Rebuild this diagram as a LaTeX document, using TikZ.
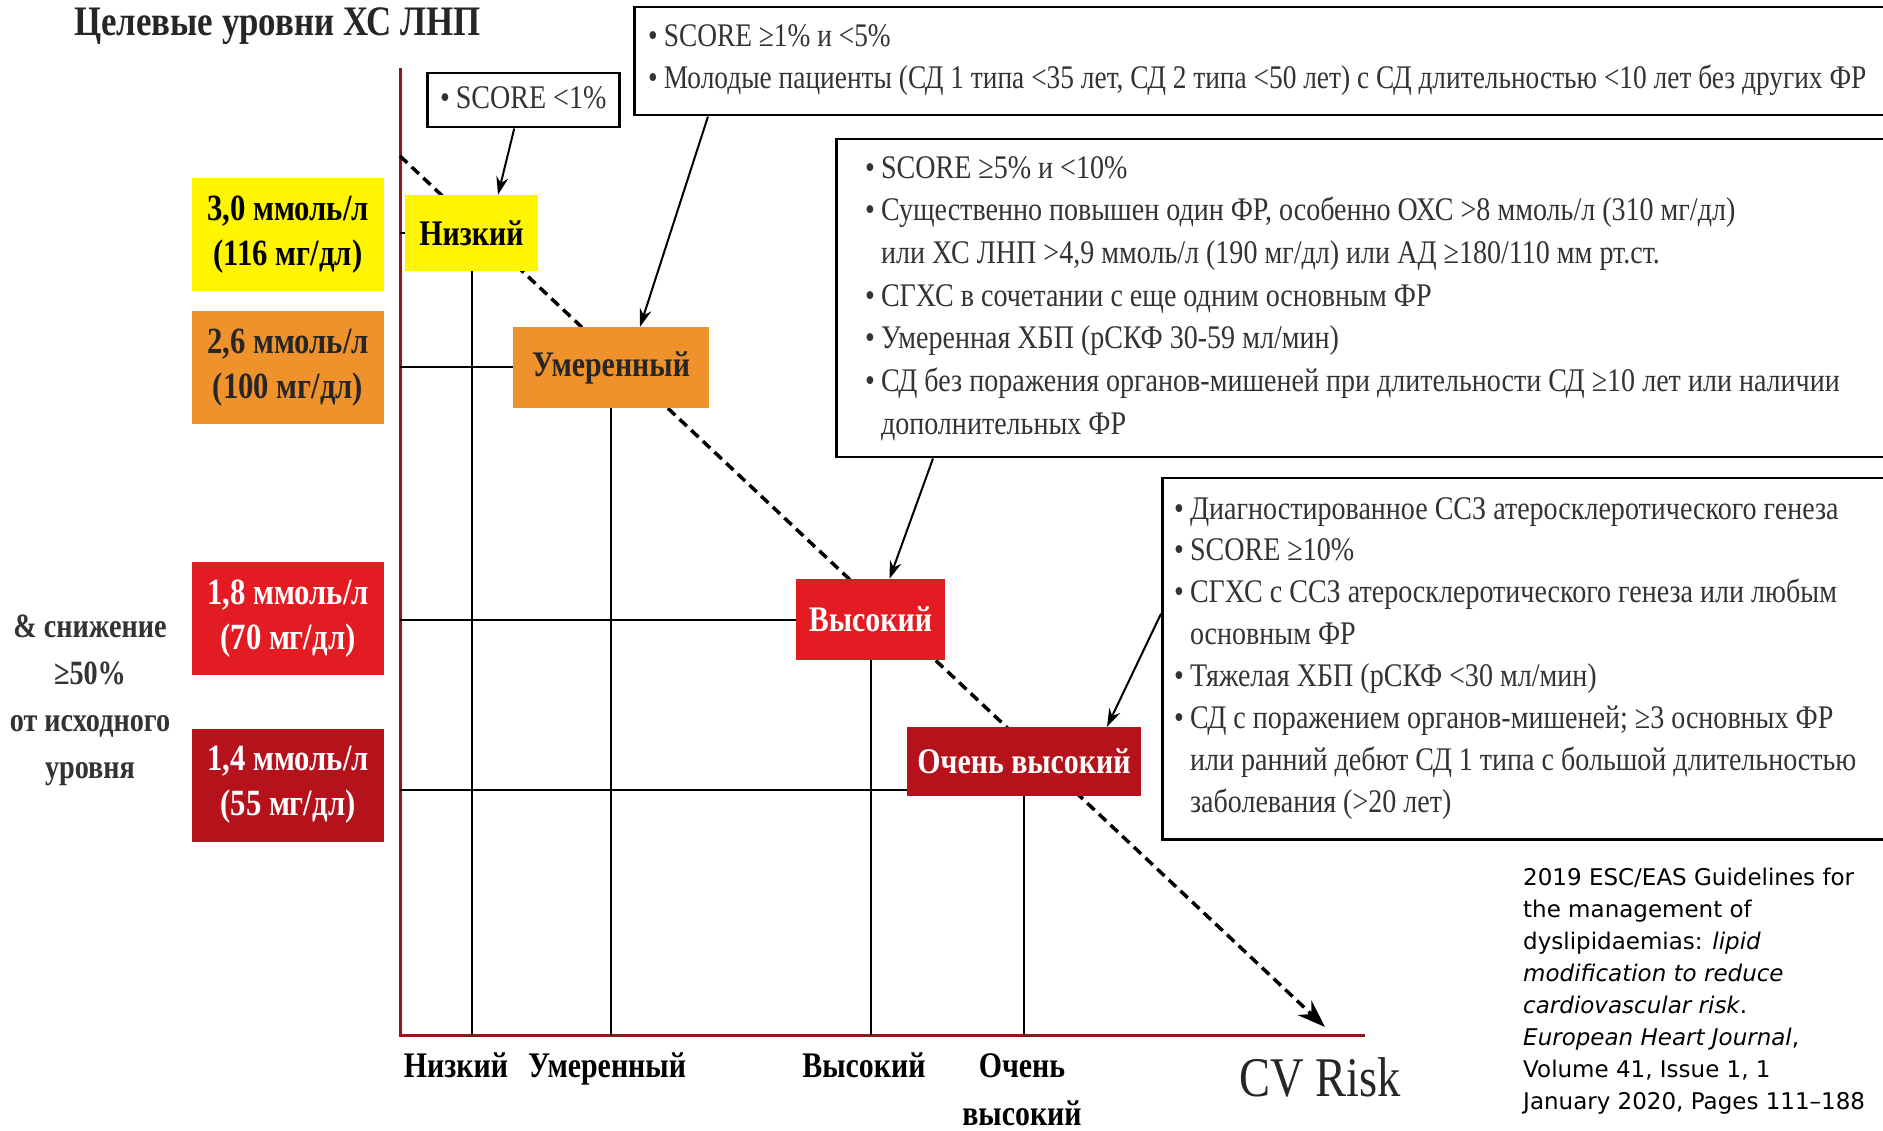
\documentclass[tikz,border=0pt]{standalone}
\usepackage{fontspec}
\setmainfont{Liberation Serif}
\newfontfamily\cnd[FakeStretch=0.85]{Liberation Serif}
\newfontfamily\cndt[FakeStretch=0.83]{Liberation Serif}
\newfontfamily\refsans{DejaVu Sans}
\usetikzlibrary{arrows.meta,calc}
\definecolor{cyel}{HTML}{FFF500}
\definecolor{corg}{HTML}{F0922B}
\definecolor{cred}{HTML}{E31B23}
\definecolor{cdred}{HTML}{B5121B}
\definecolor{caxis}{HTML}{8B1A1A}
\definecolor{ctxt}{HTML}{333333}
\tikzset{
 calloutbox/.style={draw=black, line width=2.5pt, fill=white, anchor=north west, inner sep=0pt},
 bodytext/.style={anchor=north west, align=left, inner sep=0pt, text=ctxt, font=\cnd\fontsize{33}{42.7}\selectfont},
 riskbox/.style={inner sep=0pt, align=center, font=\cndt\bfseries\fontsize{36}{40}\selectfont},
 targetbox/.style={minimum width=192pt, minimum height=113pt, inner sep=0pt, align=center, font=\cndt\bfseries\fontsize{37}{45}\selectfont},
 gridline/.style={line width=2pt, black},
 pointer/.style={line width=2pt, black, -{Stealth[length=18pt,width=12pt]}},
 axislabel/.style={inner sep=0pt, align=center, anchor=north, text=black, font=\cndt\bfseries\fontsize{36}{48}\selectfont},
 axisline/.style={line width=3pt, caxis}
}
\newcommand{\bul}{\textbullet\hspace{6pt}}
\newcommand{\ind}{\phantom{\textbullet}\hspace{6pt}}
\begin{document}
\begin{tikzpicture}[x=1pt,y=-1pt]
\useasboundingbox (0,0) rectangle (1883,1131);
\clip (0,0) rectangle (1883,1131);

% title
\node[anchor=base west, inner sep=0pt, text=black!85, font=\cndt\bfseries\fontsize{42}{46}\selectfont] (title) at (74,36) {Целевые уровни ХС ЛНП};

% axes
\coordinate (origin) at (400,1035);
\coordinate (ytop) at (400,68);
\coordinate (xend) at (1365,1035);
\draw[axisline] (ytop) -- (origin) -- (xend);

% dashed trend arrow
\coordinate (dstart) at (400,156);
\coordinate (dend) at (1325,1027);
\draw[line width=3.5pt, dash pattern=on 10pt off 6pt, -{Stealth[length=28pt,width=20pt]}] (dstart) -- (dend);

% risk boxes
\node[riskbox, fill=cyel, text=black, minimum width=133pt, minimum height=76pt] (low) at (471.5,233) {Низкий};
\node[riskbox, fill=corg, text=black!85, minimum width=196pt, minimum height=81pt] (mid) at (611,367.5) {Умеренный};
\node[riskbox, fill=cred, text=white, minimum width=149pt, minimum height=81pt] (high) at (870.5,619.5) {Высокий};
\node[riskbox, fill=cdred, text=white, minimum width=234pt, minimum height=69pt] (vhigh) at (1024,761.5) {Очень высокий};

% grid lines
\draw[gridline] (low.west -| origin) -- (low.west);
\draw[gridline] (mid.west -| origin) -- (mid.west);
\draw[gridline] (high.west -| origin) -- (high.west);
\draw[gridline] ([yshift=-28pt]vhigh.west -| origin) -- ([yshift=-28pt]vhigh.west);
\draw[gridline] (low.south) -- (low.south |- origin);
\draw[gridline] (mid.south) -- (mid.south |- origin);
\draw[gridline] (high.south) -- (high.south |- origin);
\draw[gridline] (vhigh.south) -- (vhigh.south |- origin);

% target boxes
\node[targetbox, fill=cyel, text=black] (t1) at (288,234.5) {3,0 ммоль/л\\(116 мг/дл)};
\node[targetbox, fill=corg, text=black!85] (t2) at (288,368) {2,6 ммоль/л\\(100 мг/дл)};
\node[targetbox, fill=cred, text=white] (t3) at (288,618.5) {1,8 ммоль/л\\(70 мг/дл)};
\node[targetbox, fill=cdred, text=white] (t4) at (288,785) {1,4 ммоль/л\\(55 мг/дл)};

\node[inner sep=0pt, align=center, text=ctxt, font=\cndt\bfseries\fontsize{34}{47}\selectfont] (reduc) at (90,700) {\&~снижение\\≥50\%\\от исходного\\уровня};

% callout boxes
\node[calloutbox, minimum width=192pt, minimum height=54pt] (c1) at (426,72) {};
\node[inner sep=0pt, text=ctxt, font=\cnd\fontsize{33}{42}\selectfont] (c1t) at ([yshift=3pt]c1.center) {\bul SCORE <1\%};

\node[calloutbox, minimum width=1262pt, minimum height=108pt] (c2) at (633,6) {};
\node[bodytext, font=\cndt\fontsize{33}{42.7}\selectfont] (c2t) at (648,24) {\bul SCORE ≥1\% и <5\%\\
\bul Молодые пациенты (СД 1 типа <35 лет, СД 2 типа <50 лет) с СД длительностью <10 лет без других ФР};

\node[calloutbox, minimum width=1060pt, minimum height=318pt] (c3) at (835,138) {};
\node[bodytext] (c3t) at (865,156) {\bul SCORE ≥5\% и <10\%\\
\bul Существенно повышен один ФР, особенно ОХС >8 ммоль/л (310 мг/дл)\\
\ind или ХС ЛНП >4,9 ммоль/л (190 мг/дл) или АД ≥180/110 мм рт.ст.\\
\bul СГХС в сочетании с еще одним основным ФР\\
\bul Умеренная ХБП (рСКФ 30-59 мл/мин)\\
\bul СД без поражения органов-мишеней при длительности СД ≥10 лет или наличии\\
\ind дополнительных ФР};

\node[calloutbox, minimum width=734pt, minimum height=361pt] (c4) at (1161,477) {};
\node[bodytext, font=\cnd\fontsize{33}{41.9}\selectfont] (c4t) at (1174,497) {\bul Диагностированное ССЗ атеросклеротического генеза\\
\bul SCORE ≥10\%\\
\bul СГХС с ССЗ атеросклеротического генеза или любым\\
\ind основным ФР\\
\bul Тяжелая ХБП (рСКФ <30 мл/мин)\\
\bul СД с поражением органов-мишеней; ≥3 основных ФР\\
\ind или ранний дебют СД 1 типа с большой длительностью\\
\ind заболевания (>20 лет)};

% callout pointers
\draw[pointer] ([xshift=-9pt]c1.south) -- ([xshift=26.5pt]low.north);
\draw[pointer] ([xshift=75pt]c2.south west) -- ([xshift=29pt]mid.north);
\draw[pointer] ([xshift=98pt]c3.south west) -- ([xshift=19pt]high.north);
\draw[pointer] ([yshift=45pt]c4.west) -- ([xshift=83pt]vhigh.north);

% axis labels
\node[axislabel] (xl1) at (456,1053) {Низкий};
\node[axislabel] (xl2) at (607,1053) {Умеренный};
\node[axislabel] (xl3) at (864,1053) {Высокий};
\node[axislabel] (xl4) at (1022,1053) {Очень\\высокий};
\node[inner sep=0pt, text=black!85, font=\cndt\fontsize{56}{60}\selectfont] (cvrisk) at (1320,1077) {CV Risk};

% reference
\node[anchor=north west, inner sep=0pt, align=left, text=black, font=\refsans\fontsize{23}{32}\selectfont] (refnote) at (1523,868) {2019 ESC/EAS Guidelines for\\
the management of\\
dyslipidaemias: \textit{lipid}\\
\textit{modification to reduce}\\
\textit{cardiovascular risk}.\\
\textit{European Heart Journal},\\
Volume 41, Issue 1, 1\\
January 2020, Pages 111–188};
\end{tikzpicture}
\end{document}
